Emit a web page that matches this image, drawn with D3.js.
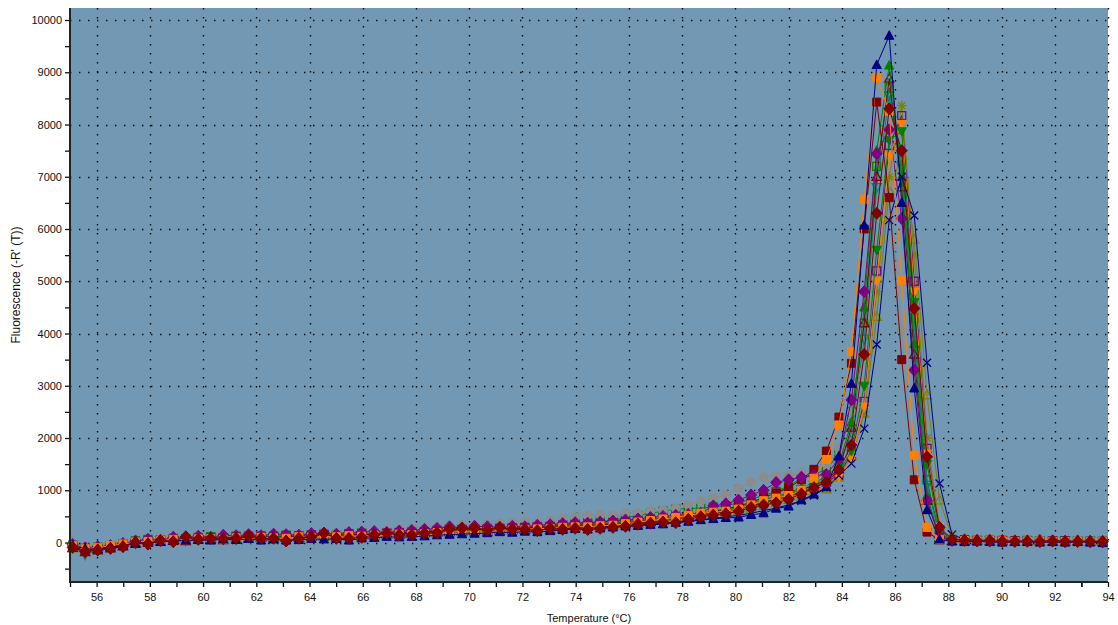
<!DOCTYPE html>
<html>
<head>
<meta charset="utf-8">
<script src="https://cdn.jsdelivr.net/npm/d3@7"></script>
<style>
  html, body { margin: 0; padding: 0; background: #ffffff; }
  svg { display: block; font-family: "Liberation Sans", Arial, sans-serif; }
</style>
</head>
<body>
<svg id="chart" width="1118" height="625"></svg>
<script>
// Melt-curve readings: temperature steps (°C)
const temperatures = [
  55.10, 55.57, 56.04, 56.52, 56.99, 57.46, 57.93, 58.40, 58.88, 59.35,
  59.82, 60.29, 60.76, 61.24, 61.71, 62.18, 62.65, 63.12, 63.60, 64.07,
  64.54, 65.01, 65.48, 65.96, 66.43, 66.90, 67.37, 67.84, 68.32, 68.79,
  69.26, 69.73, 70.20, 70.68, 71.15, 71.62, 72.09, 72.56, 73.04, 73.51,
  73.98, 74.45, 74.92, 75.40, 75.87, 76.34, 76.81, 77.28, 77.76, 78.23,
  78.70, 79.17, 79.64, 80.12, 80.59, 81.06, 81.53, 82.00, 82.48, 82.95,
  83.42, 83.89, 84.36, 84.84, 85.31, 85.78, 86.25, 86.72, 87.20, 87.67,
  88.14, 88.61, 89.08, 89.56, 90.03, 90.50, 90.97, 91.44, 91.92, 92.39,
  92.86, 93.33, 93.80
];

// Axis tick labels
const xTickLabels = [56, 58, 60, 62, 64, 66, 68, 70, 72, 74, 76, 78, 80, 82, 84, 86, 88, 90, 92, 94];
const yTickLabels = [0, 1000, 2000, 3000, 4000, 5000, 6000, 7000, 8000, 9000, 10000];

// -R'(T) for each well, one value per temperature step
const wellNavyTri = [
  -60, -120, -130, -90, -60, -20, 0, 10, 30, 40,
  50, 40, 60, 50, 70, 40, 60, 40, 50, 70,
  60, 70, 40, 80, 90, 110, 100, 110, 120, 140,
  150, 160, 170, 180, 200, 190, 210, 200, 220, 240,
  260, 250, 270, 290, 310, 320, 340, 350, 380, 400,
  430, 450, 470, 480, 530, 560, 650, 690, 810, 920,
  1060, 1650, 3040, 6070, 9140, 9700, 6500, 2950, 620, 60,
  20, 10, 20, 10, 0, 10, 10, 0, 10, 0,
  10, 0, -10
];
const wellOrangeSq = [
  -60, -120, -100, -60, -30, 10, 20, 40, 60, 50,
  70, 80, 60, 90, 70, 100, 90, 80, 110, 100,
  120, 110, 130, 120, 140, 150, 160, 150, 170, 190,
  200, 210, 220, 210, 230, 240, 250, 260, 270, 290,
  300, 300, 320, 330, 360, 390, 420, 450, 480, 520,
  560, 580, 600, 640, 720, 800, 850, 900, 1000, 1230,
  1590, 2250, 3660, 6570, 8900, 8250, 5020, 1670, 290, 60,
  30, 40, 30, 40, 30, 20, 30, 30, 20, 20,
  30, 20, 20
];
const wellPurpleDia = [
  -40, -100, -80, -60, -20, 30, 60, 40, 100, 80,
  120, 100, 140, 130, 150, 130, 160, 150, 140, 170,
  180, 160, 190, 200, 210, 190, 220, 230, 250, 270,
  300, 280, 310, 300, 290, 310, 300, 330, 340, 360,
  380, 370, 390, 410, 430, 450, 480, 500, 520, 540,
  560, 700, 740, 810, 910, 1000, 1150, 1200, 1250, 1280,
  1300, 1600, 2730, 4800, 7440, 7900, 6200, 3300, 800, 100,
  40, 50, 40, 30, 40, 30, 30, 40, 30, 20,
  30, 20, 10
];
const wellGrayCirc = [
  -50, -90, -70, -40, -10, 20, 40, 60, 50, 80,
  90, 70, 100, 110, 90, 120, 130, 110, 140, 150,
  130, 160, 170, 180, 200, 230, 250, 270, 290, 300,
  320, 340, 330, 350, 370, 380, 400, 380, 420, 460,
  490, 520, 530, 520, 560, 560, 600, 620, 660, 720,
  790, 850, 910, 1040, 1160, 1250, 1280, 1290, 1330, 1380,
  1500, 1800, 2500, 3600, 5600, 6900, 4060, 1390, 180, 40,
  30, 30, 20, 30, 20, 30, 20, 20, 30, 20,
  20, 10, 10
];
const wellGreenTri = [
  -80, -150, -120, -90, -50, 0, 10, 20, 40, 60,
  70, 80, 90, 70, 100, 90, 100, 80, 110, 120,
  110, 120, 130, 140, 150, 160, 170, 160, 180, 200,
  220, 230, 240, 250, 260, 270, 280, 290, 300, 320,
  330, 340, 350, 370, 400, 420, 440, 460, 490, 520,
  560, 600, 640, 690, 750, 820, 880, 950, 1050, 1150,
  1250, 1500, 2300, 4500, 7500, 9130, 7000, 3800, 900, 100,
  40, 30, 40, 30, 30, 20, 30, 20, 30, 20,
  30, 20, 20
];
const wellTealTriDown = [
  -100, -230, -160, -120, -70, -20, 10, 30, 50, 40,
  60, 70, 80, 60, 90, 80, 90, 100, 110, 100,
  120, 130, 120, 140, 160, 150, 170, 180, 190, 210,
  230, 240, 230, 250, 260, 270, 270, 280, 290, 300,
  320, 330, 340, 360, 380, 410, 430, 450, 480, 510,
  540, 580, 620, 670, 730, 800, 860, 930, 1020, 1100,
  1150, 1450, 2100, 3900, 6800, 8550, 7200, 4000, 1100, 120,
  50, 40, 50, 40, 40, 30, 40, 30, 30, 40,
  30, 30, 20
];
const wellOliveTri = [
  -110, -170, -130, -100, -60, -10, 20, 40, 30, 70,
  60, 90, 80, 100, 90, 110, 100, 120, 110, 130,
  140, 120, 150, 160, 140, 170, 180, 190, 200, 210,
  220, 240, 230, 250, 240, 260, 250, 270, 280, 290,
  300, 310, 330, 340, 360, 380, 400, 420, 440, 470,
  500, 530, 560, 600, 650, 700, 760, 820, 880, 950,
  1020, 1250, 1670, 2470, 4320, 6740, 7400, 5800, 2820, 810,
  120, 60, 50, 50, 40, 40, 30, 40, 30, 30,
  20, 30, 20
];
const wellNavyCross = [
  -70, -130, -110, -80, -40, 0, 20, 30, 50, 60,
  70, 60, 80, 90, 80, 100, 90, 110, 100, 120,
  130, 110, 140, 150, 160, 150, 170, 180, 170, 190,
  200, 210, 200, 220, 230, 240, 250, 240, 260, 270,
  280, 290, 300, 310, 320, 340, 350, 370, 390, 410,
  440, 460, 490, 520, 560, 610, 660, 720, 800, 900,
  1050, 1280, 1510, 2180, 3790, 6170, 7000, 6260, 3440, 1130,
  150, 60, 40, 40, 30, 30, 30, 20, 30, 20,
  20, 20, 10
];
const wellOliveStar = [
  -60, -110, -90, -70, -30, 10, 30, 50, 40, 80,
  70, 90, 100, 80, 110, 100, 120, 110, 130, 140,
  120, 150, 140, 160, 170, 180, 170, 190, 200, 220,
  230, 240, 250, 240, 260, 270, 280, 290, 300, 310,
  320, 330, 350, 360, 380, 400, 420, 440, 460, 490,
  520, 550, 580, 620, 680, 740, 800, 860, 930, 1000,
  1100, 1300, 1600, 2500, 4800, 7000, 8360, 5500, 2000, 300,
  60, 40, 40, 30, 30, 30, 20, 30, 20, 20,
  30, 20, 20
];
const wellPurpleSq = [
  -70, -140, -120, -90, -50, 0, 30, 20, 60, 50,
  80, 90, 70, 100, 120, 110, 100, 130, 120, 140,
  150, 130, 160, 170, 150, 180, 190, 200, 210, 230,
  240, 250, 260, 250, 270, 280, 290, 300, 310, 330,
  340, 350, 360, 380, 400, 420, 440, 460, 490, 510,
  540, 580, 610, 650, 700, 760, 820, 880, 960, 1050,
  1150, 1300, 1700, 2700, 5200, 7600, 8170, 5000, 1800, 250,
  50, 40, 30, 40, 30, 30, 30, 20, 30, 30,
  20, 20, 20
];
const wellOrangeTriDown = [
  -90, -160, -140, -100, -60, -10, 10, 30, 20, 60,
  50, 80, 70, 90, 80, 100, 110, 90, 120, 130,
  110, 140, 130, 150, 160, 150, 180, 170, 190, 210,
  220, 230, 220, 240, 250, 260, 270, 280, 270, 290,
  310, 320, 330, 350, 370, 390, 410, 430, 450, 480,
  510, 540, 570, 610, 660, 720, 780, 840, 910, 990,
  1080, 1250, 1600, 2600, 5000, 7400, 8010, 4800, 1700, 300,
  50, 40, 40, 30, 40, 30, 30, 20, 30, 30,
  20, 20, 10
];
const wellGreenTriDown = [
  -80, -130, -110, -80, -40, 0, 30, 40, 60, 50,
  90, 80, 100, 90, 110, 100, 120, 110, 100, 130,
  140, 120, 150, 140, 160, 180, 170, 190, 200, 210,
  220, 230, 240, 260, 250, 270, 280, 290, 300, 310,
  320, 340, 350, 370, 390, 410, 430, 450, 480, 500,
  530, 560, 600, 640, 690, 750, 820, 890, 970, 1060,
  1170, 1350, 1750, 3000, 5600, 7700, 7870, 4600, 1500, 200,
  40, 40, 30, 30, 30, 20, 30, 20, 30, 20,
  20, 20, 10
];
const wellMaroonTri = [
  -100, -180, -150, -110, -70, -20, 0, 20, 40, 30,
  60, 70, 50, 80, 70, 90, 80, 100, 90, 110,
  120, 100, 130, 120, 140, 160, 150, 170, 180, 190,
  200, 210, 220, 210, 230, 240, 250, 260, 250, 270,
  290, 300, 310, 330, 350, 370, 390, 420, 450, 480,
  510, 550, 590, 640, 700, 770, 840, 910, 1000, 1100,
  1200, 1400, 2200, 4200, 7000, 8880, 6800, 3600, 800, 90,
  40, 30, 40, 30, 30, 20, 30, 30, 20, 20,
  30, 20, 20
];
const wellMaroonSq = [
  -90, -150, -130, -100, -60, -10, 20, 30, 50, 70,
  60, 90, 80, 100, 90, 110, 100, 90, 120, 130,
  140, 120, 150, 160, 150, 170, 190, 180, 200, 220,
  240, 250, 240, 260, 270, 260, 280, 290, 300, 290,
  310, 320, 340, 350, 370, 400, 420, 450, 480, 510,
  550, 590, 640, 700, 770, 860, 950, 1050, 1200, 1400,
  1750, 2400, 3430, 6000, 8430, 6600, 3500, 1200, 200, 50,
  30, 40, 30, 30, 40, 30, 20, 30, 20, 30,
  20, 20, 20
];
const wellGreenSq = [
  -50, -110, -90, -60, -20, 30, 60, 50, 80, 70,
  100, 110, 90, 120, 110, 130, 120, 140, 130, 150,
  160, 140, 170, 180, 160, 190, 200, 210, 220, 230,
  250, 240, 260, 270, 260, 280, 290, 300, 320, 340,
  360, 380, 400, 430, 470, 520, 560, 600, 640, 650,
  660, 680, 700, 760, 830, 900, 980, 1080, 1230, 1300,
  1400, 1700, 2500, 4200, 7200, 8700, 7300, 4300, 1200, 150,
  60, 50, 40, 40, 40, 30, 40, 30, 30, 30,
  30, 20, 20
];
const wellMaroonDia = [
  -92, -176, -143, -111, -80, 4, -29, 42, 15, 111,
  61, 80, 73, 80, 124, 80, 80, 29, 80, 111,
  176, 80, 80, 99, 143, 176, 143, 143, 176, 187,
  252, 271, 271, 239, 283, 252, 252, 226, 271, 252,
  271, 250, 271, 290, 310, 350, 370, 390, 380, 444,
  493, 526, 550, 600, 670, 720, 760, 830, 930, 1050,
  1150, 1390, 1864, 3600, 6300, 8300, 7500, 4480, 1640, 290,
  60, 40, 30, 40, 20, 20, 25, 20, 30, 20,
  20, 20, 20
];

// Drawing order (last one ends up on top) with colour and marker style
const wells = [
  { values: wellGreenSq,       color: "#008000", shape: "square",   filled: false },
  { values: wellTealTriDown,   color: "#008080", shape: "triDown",  filled: false },
  { values: wellOliveTri,      color: "#808000", shape: "triUp",    filled: false },
  { values: wellGrayCirc,      color: "#8c8c8c", shape: "circle",   filled: true  },
  { values: wellOliveStar,     color: "#808000", shape: "star",     filled: false },
  { values: wellPurpleSq,      color: "#800080", shape: "square",   filled: false },
  { values: wellOrangeTriDown, color: "#ff8000", shape: "triDown",  filled: true  },
  { values: wellGreenTriDown,  color: "#008000", shape: "triDown",  filled: true  },
  { values: wellMaroonTri,     color: "#800000", shape: "triUp",    filled: false },
  { values: wellGreenTri,      color: "#008000", shape: "triUp",    filled: true  },
  { values: wellNavyCross,     color: "#000080", shape: "cross",    filled: false },
  { values: wellMaroonSq,      color: "#800000", shape: "square",   filled: true  },
  { values: wellPurpleDia,     color: "#800080", shape: "diamond",  filled: true  },
  { values: wellOrangeSq,      color: "#ff8000", shape: "square",   filled: true  },
  { values: wellNavyTri,       color: "#000080", shape: "triUp",    filled: true  },
  { values: wellMaroonDia,     color: "#800000", shape: "diamond",  filled: true  }
];

const svg = d3.select("#chart");
const W = 1118, H = 625;
const plot = { left: 70, right: 1108, top: 8, bottom: 582 };

const x = d3.scaleLinear().domain([55, 94]).range([plot.left, plot.right]);
const y = d3.scaleLinear().domain([-756, 10230]).range([plot.bottom, plot.top]);

// Plot background
svg.append("rect")
  .attr("x", plot.left).attr("y", plot.top)
  .attr("width", plot.right - plot.left).attr("height", plot.bottom - plot.top)
  .attr("fill", "#7298b4");

// Dotted grid
const grid = svg.append("g").attr("stroke", "#0a0a0a").attr("stroke-width", 1.4)
  .attr("stroke-dasharray", "1.4,7.6");
grid.selectAll("line.v").data(xTickLabels).join("line").attr("class", "v")
  .attr("x1", d => Math.round(x(d)) + 0.5).attr("x2", d => Math.round(x(d)) + 0.5)
  .attr("y1", plot.top).attr("y2", plot.bottom);
grid.selectAll("line.h").data(yTickLabels).join("line").attr("class", "h")
  .attr("y1", d => Math.round(y(d)) + 0.5).attr("y2", d => Math.round(y(d)) + 0.5)
  .attr("x1", plot.left).attr("x2", plot.right);

// Marker shapes
function markerPath(shape) {
  switch (shape) {
    case "diamond": return "M0,-6L5.5,0L0,6L-5.5,0Z";
    case "triUp":   return "M0,-5L4.6,3.6L-4.6,3.6Z";
    case "triDown": return "M0,5L4.6,-3.6L-4.6,-3.6Z";
    case "square":  return "M-4,-4H4V4H-4Z";
    case "circle":  return "M4.5,0A4.5,4.5 0 1,1 -4.5,0A4.5,4.5 0 1,1 4.5,0Z";
    case "cross":   return "M-4,-4L4,4M-4,4L4,-4";
    case "star":    return "M-5,0H5M0,-5V5M-3.5,-3.5L3.5,3.5M-3.5,3.5L3.5,-3.5";
  }
}

const line = d3.line().x((d, i) => x(temperatures[i])).y(d => y(d));

const curves = svg.append("g");
wells.forEach(w => {
  const g = curves.append("g");
  g.append("path").attr("d", line(w.values))
    .attr("fill", "none").attr("stroke", w.color).attr("stroke-width", 1);
  const open = !w.filled || w.shape === "cross" || w.shape === "star";
  g.selectAll("path.m").data(w.values).join("path").attr("class", "m")
    .attr("transform", (d, i) => `translate(${x(temperatures[i])},${y(d)})`)
    .attr("d", markerPath(w.shape))
    .attr("fill", open ? "none" : w.color)
    .attr("stroke", w.color)
    .attr("stroke-width", open ? 1.3 : 1);
});

// Axes
const yAxis = d3.axisLeft(y).tickValues(yTickLabels).tickSize(5).tickPadding(3).tickFormat(d3.format("d"));
const yMinor = d3.axisLeft(y).tickValues(yTickLabels.map(v => v + 500).concat([-500])).tickSize(5).tickFormat("");
const xAxis = d3.axisBottom(x).tickValues(xTickLabels).tickSize(5).tickPadding(6).tickFormat(d3.format("d"));
const xMinor = d3.axisBottom(x).tickValues(xTickLabels.map(v => v - 1).concat([93])).tickSize(5).tickFormat("");

function styleAxis(g) {
  g.select(".domain").remove();
  g.selectAll(".tick line").attr("stroke", "#111").attr("stroke-width", 1.3);
  g.selectAll(".tick text").attr("fill", "#111").attr("font-size", 11)
    .attr("font-family", "'Liberation Sans', Arial, sans-serif");
}

svg.append("g").attr("transform", `translate(${plot.left},0)`).call(yMinor).call(styleAxis);
svg.append("g").attr("transform", `translate(${plot.left},0)`).call(yAxis).call(styleAxis);
svg.append("g").attr("transform", `translate(0,${plot.bottom})`).call(xMinor).call(styleAxis);
svg.append("g").attr("transform", `translate(0,${plot.bottom})`).call(xAxis).call(styleAxis);

// Axis lines
svg.append("line").attr("x1", plot.left).attr("x2", plot.left)
  .attr("y1", plot.top).attr("y2", plot.bottom + 1)
  .attr("stroke", "#222").attr("stroke-width", 2);
svg.append("line").attr("x1", plot.left - 1).attr("x2", plot.right)
  .attr("y1", plot.bottom).attr("y2", plot.bottom)
  .attr("stroke", "#222").attr("stroke-width", 2);

// Axis titles
svg.append("text")
  .attr("x", (plot.left + plot.right) / 2).attr("y", 622)
  .attr("text-anchor", "middle").attr("font-size", 11).attr("fill", "#111")
  .text("Temperature (°C)");
svg.append("text")
  .attr("transform", `translate(20,${(plot.top + plot.bottom) / 2 - 10}) rotate(-90)`)
  .attr("text-anchor", "middle").attr("font-size", 12).attr("fill", "#111")
  .text("Fluorescence (-R' (T))");
</script>
</body>
</html>
